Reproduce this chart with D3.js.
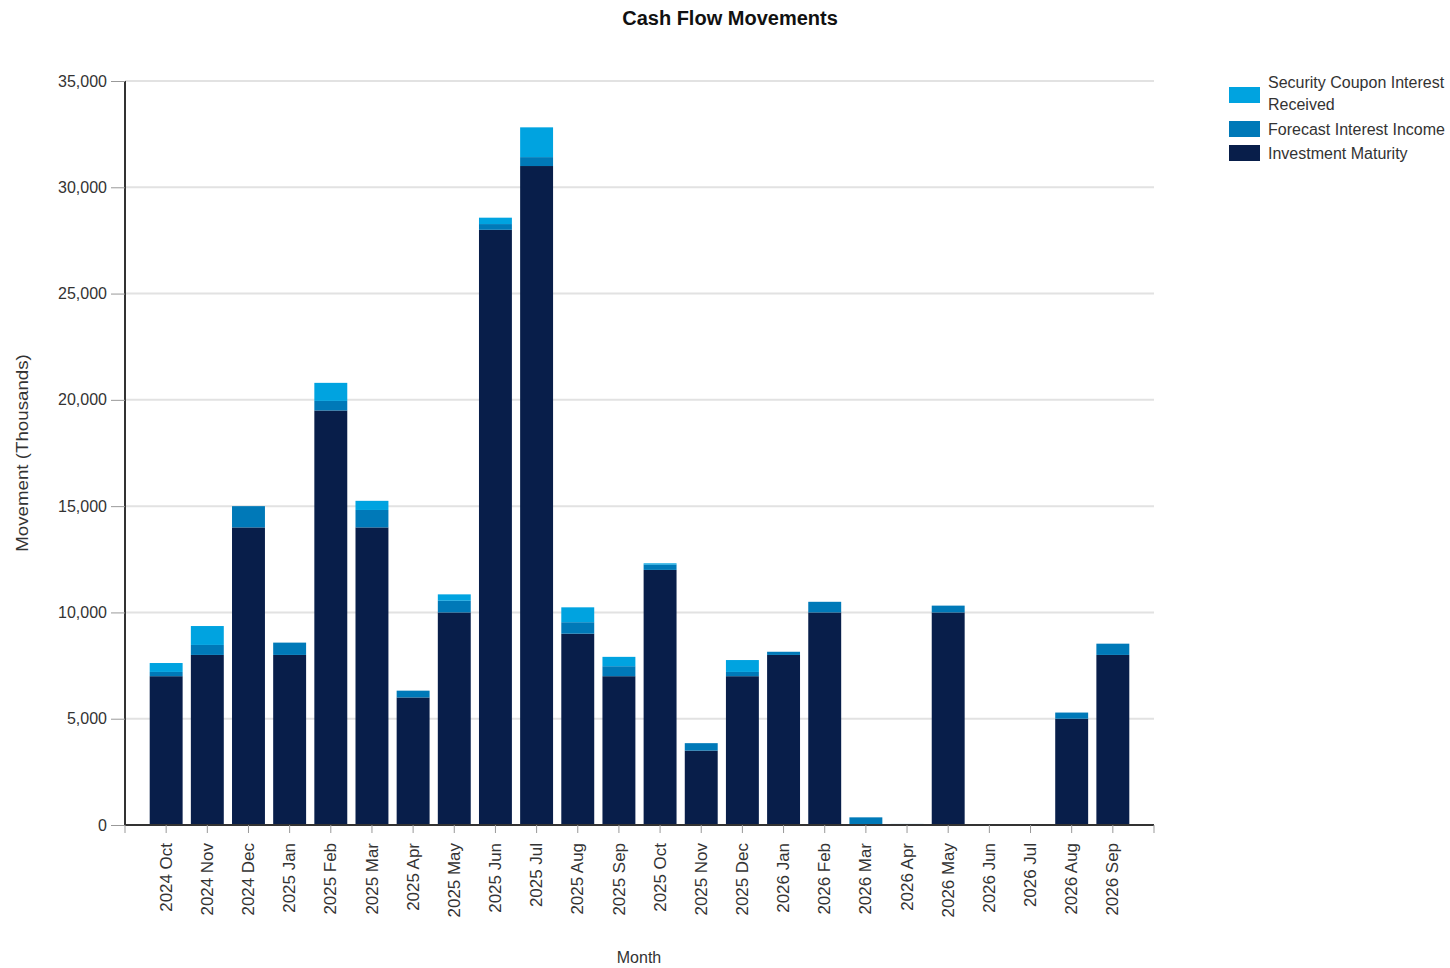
<!DOCTYPE html>
<html><head><meta charset="utf-8">
<script src="https://cdn.jsdelivr.net/npm/d3@7"></script>
<style>body{margin:0;background:#fff;font-family:"Liberation Sans",Arial,sans-serif;}</style>
</head><body><svg id="c" width="1450" height="968"></svg>
<script>
const months = ["2024 Oct","2024 Nov","2024 Dec","2025 Jan","2025 Feb","2025 Mar","2025 Apr","2025 May","2025 Jun","2025 Jul","2025 Aug","2025 Sep","2025 Oct","2025 Nov","2025 Dec","2026 Jan","2026 Feb","2026 Mar","2026 Apr","2026 May","2026 Jun","2026 Jul","2026 Aug","2026 Sep"];
const investmentMaturity = [7000,8000,14000,8000,19500,14000,6000,10000,28000,31000,9000,7000,12000,3500,7000,8000,10000,0,0,10000,0,0,5000,8000];
const forecastInterest = [200,470,1000,580,450,820,320,550,270,420,540,470,250,350,200,150,500,360,50,320,0,40,290,530];
const couponInterest = [420,890,0,0,850,430,0,300,300,1400,700,440,60,0,560,0,0,0,0,0,0,0,0,0];
const seriesNames = ["Investment Maturity","Forecast Interest Income","Security Coupon Interest Received"];
const seriesColors = ["#081e4a","#0079b8","#00a3e0"];
const yTicks = [0,5000,10000,15000,20000,25000,30000,35000];

const svg = d3.select("#c");
const m = {left:125, right:1154, top:81, bottom:825};
const x = d3.scaleBand().domain(months).range([m.left, m.right]).paddingInner(0.2).paddingOuter(0.6);
const y = d3.scaleLinear().domain([0,35000]).range([m.bottom, m.top]);

// gridlines
svg.append("g").selectAll("line").data(yTicks.slice(1)).join("line")
  .attr("x1", m.left).attr("x2", m.right).attr("y1", d=>y(d)).attr("y2", d=>y(d))
  .attr("stroke","#e2e2e2").attr("stroke-width",2);

const rows = months.map((mo,i)=>({month:mo, "Investment Maturity":investmentMaturity[i], "Forecast Interest Income":forecastInterest[i], "Security Coupon Interest Received":couponInterest[i]}));
const stack = d3.stack().keys(seriesNames)(rows);
svg.append("g").selectAll("g").data(stack).join("g").attr("fill",(d,i)=>seriesColors[i])
  .selectAll("rect").data(d=>d).join("rect")
  .attr("x", d=>x(d.data.month)).attr("width", x.bandwidth())
  .attr("y", d=>y(d[1])).attr("height", d=>Math.max(0, y(d[0])-y(d[1])));

// y axis
const yAxis = svg.append("g").attr("transform",`translate(${m.left},0)`)
  .call(d3.axisLeft(y).tickValues(yTicks).tickFormat(d3.format(",")).tickSize(14).tickPadding(4));
yAxis.select(".domain").attr("stroke","#333").attr("stroke-width",2).attr("d",`M0,${m.top}V${m.bottom}`);
yAxis.selectAll(".tick line").attr("stroke","#999");
yAxis.selectAll("text").attr("font-size",16).attr("fill","#333").attr("font-family","Liberation Sans, Arial, sans-serif");

// x axis
const xAxis = svg.append("g").attr("transform",`translate(0,${m.bottom})`)
  .call(d3.axisBottom(x).tickSize(8).tickSizeOuter(0));
xAxis.select(".domain").attr("stroke","#333").attr("stroke-width",2).attr("d",`M${m.left},0H${m.right}`);
xAxis.selectAll(".tick line").attr("stroke","#999");
xAxis.selectAll(".tick text").attr("font-size",16).attr("fill","#333").attr("font-family","Liberation Sans, Arial, sans-serif")
  .attr("transform","rotate(-90) scale(1.06,1)").attr("text-anchor","end").attr("x",-17).attr("y",0).attr("dy","0.35em");
// end ticks
svg.append("g").selectAll("line").data([m.left, m.right]).join("line")
  .attr("x1",d=>d).attr("x2",d=>d).attr("y1",m.bottom).attr("y2",m.bottom+8).attr("stroke","#999");

// title & labels
svg.append("text").attr("x",730).attr("y",25).attr("text-anchor","middle").attr("font-size",20).attr("font-weight","bold").attr("fill","#111").text("Cash Flow Movements");
svg.append("text").attr("transform","translate(28,453) rotate(-90) scale(1.17,1)").attr("text-anchor","middle").attr("font-size",16).attr("fill","#333").text("Movement (Thousands)");
svg.append("text").attr("x",639).attr("y",963).attr("text-anchor","middle").attr("font-size",16).attr("fill","#333").text("Month");

// legend
const legend = [
  {name:["Security Coupon Interest","Received"], color:seriesColors[2], y:87},
  {name:["Forecast Interest Income"], color:seriesColors[1], y:121},
  {name:["Investment Maturity"], color:seriesColors[0], y:145}
];
const lg = svg.append("g").selectAll("g").data(legend).join("g");
lg.append("rect").attr("x",1229).attr("y",d=>d.y).attr("width",31).attr("height",16).attr("fill",d=>d.color);
lg.append("text").attr("x",1268).attr("y",d=>d.name.length>1? d.y+1 : d.y+14).attr("font-size",16).attr("fill","#333")
  .selectAll("tspan").data(d=>d.name).join("tspan").attr("x",1268).attr("dy",(d,i)=>i===0?0:22).text(d=>d);
</script></body></html>
